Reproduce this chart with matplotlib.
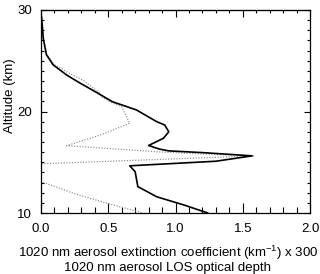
import numpy as np
import matplotlib
matplotlib.use('Agg')
import matplotlib.pyplot as plt
from matplotlib.ticker import MultipleLocator, FormatStrFormatter

plt.rcParams['font.family'] = ['Liberation Sans', 'DejaVu Sans']
plt.rcParams['mathtext.fontset'] = 'custom'
plt.rcParams['mathtext.rm'] = 'Liberation Sans'
plt.rcParams['mathtext.it'] = 'Liberation Sans'

# extinction coefficient x 300 (solid)
ext_x = [0.0, 0.0, 0.005, 0.017, 0.04, 0.09, 0.19, 0.29, 0.41, 0.53, 0.71, 0.86, 0.92,
         0.95, 0.91, 0.80, 0.88, 0.95, 1.20, 1.57, 1.30, 0.66, 0.70, 0.72, 0.86, 1.06, 1.24]
ext_alt = [30.0, 29.6, 29.2, 27.2, 25.6, 24.6, 23.6, 22.8, 21.9, 20.97, 20.15, 19.0, 18.67,
           18.0, 17.36, 16.65, 16.3, 16.12, 15.95, 15.63, 15.1, 14.65, 14.07, 12.6, 11.6, 10.8, 10.0]

# LOS optical depth (dotted)
los_x = [0.0, 0.005, 0.02, 0.045, 0.10, 0.22, 0.31, 0.43, 0.45, 0.51, 0.60, 0.66, 0.44,
         0.19, 0.93, 1.58, 0.0, 0.0, 0.24, 0.49, 0.76]
los_alt = [30.0, 29.0, 27.0, 25.6, 24.6, 23.7, 23.1, 21.9, 21.45, 20.97, 20.47, 18.84, 17.68,
           16.63, 15.98, 15.62, 14.85, 13.1, 11.94, 10.96, 10.0]

fig = plt.figure(figsize=(3.2, 2.74), dpi=100)
ax = fig.add_axes([41/320, 1-213/274, 269/320, 203/274])

ax.plot(los_x, los_alt, color='#8c8c8c', lw=0.9, ls=(0, (0.9, 1.3)))
ax.plot(ext_x, ext_alt, color='black', lw=1.2)

ax.set_xlim(0, 2)
ax.set_ylim(10, 30)
ax.xaxis.set_major_locator(MultipleLocator(0.5))
ax.xaxis.set_minor_locator(MultipleLocator(0.1))
ax.yaxis.set_major_locator(MultipleLocator(10))
ax.yaxis.set_minor_locator(MultipleLocator(1))
ax.xaxis.set_major_formatter(FormatStrFormatter('%.1f'))

for s in ax.spines.values():
    s.set_linewidth(0.9)

ax.tick_params(axis='x', which='major', direction='in', length=7.2, width=0.8, pad=7, labelsize=9.5)
ax.tick_params(axis='x', which='minor', direction='in', length=4.3, width=0.8)
ax.tick_params(axis='y', which='major', direction='in', length=4.5, width=0.8, pad=6.5,
               labelsize=9.5, right=True)
ax.tick_params(axis='y', which='minor', direction='in', length=2.4, width=0.8, right=True)

top = ax.secondary_xaxis('top')
top.xaxis.set_major_locator(MultipleLocator(0.5))
top.xaxis.set_minor_locator(MultipleLocator(0.1))
top.tick_params(axis='x', which='major', direction='in', length=4.8, width=0.8, labeltop=False)
top.tick_params(axis='x', which='minor', direction='in', length=2.4, width=0.8)

ax.set_ylabel('Altitude (km)', fontsize=9.5)
ax.yaxis.set_label_coords(-0.093, 0.576)

fig.text(168/320, 1-259/274,
         '1020 nm aerosol extinction coefficient (km$^{-1}$) x 300\n'
         '1020 nm aerosol LOS optical depth',
         ha='center', va='center', multialignment='center', fontsize=9.5, linespacing=0.95)

fig.savefig('out.png', dpi=100)
